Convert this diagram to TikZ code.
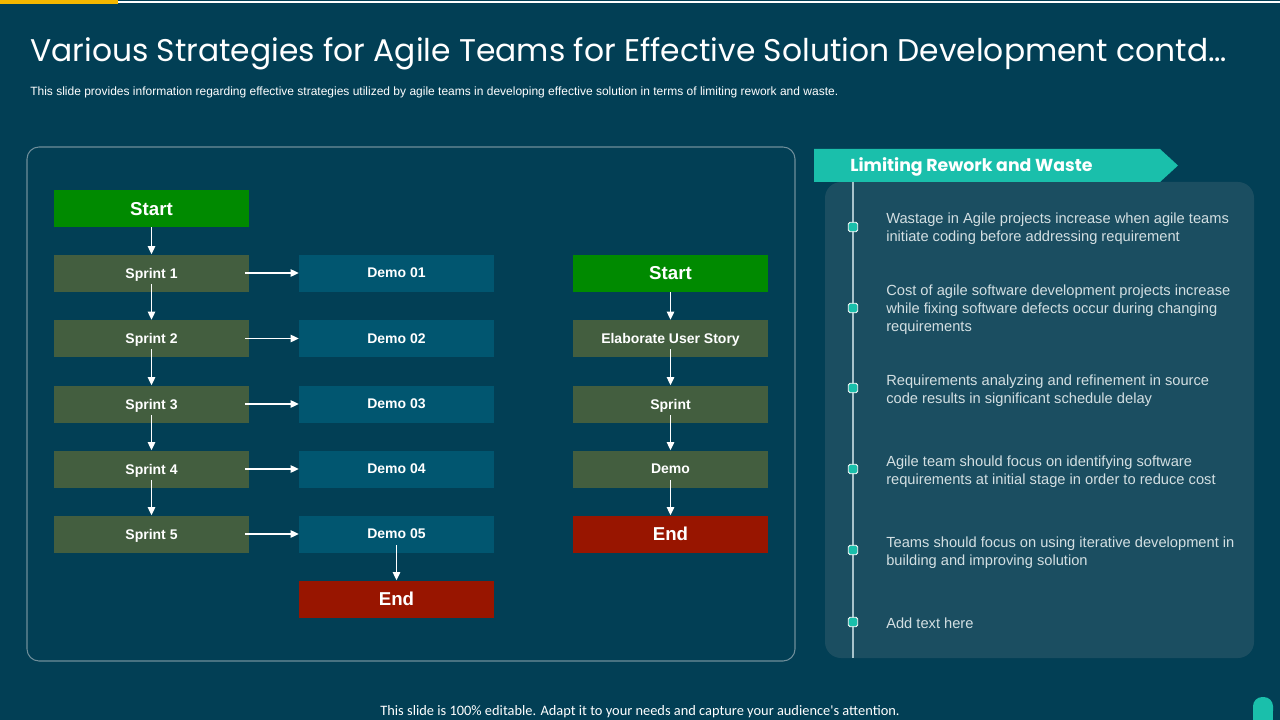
\documentclass[tikz,border=0pt]{standalone}
\usepackage{fontspec}
\setmainfont{Liberation Sans}
\newfontfamily\titlefont{Poppins}
\newfontfamily\footfont{Carlito}
\usetikzlibrary{arrows.meta,shapes.geometric}
\definecolor{bg}{HTML}{023F55}
\definecolor{startgreen}{HTML}{008A00}
\definecolor{sprintc}{HTML}{435E3F}
\definecolor{democ}{HTML}{015670}
\definecolor{endc}{HTML}{981500}
\definecolor{tealc}{HTML}{1ABFAB}
\definecolor{cardc}{HTML}{1B4E61}
\definecolor{linec}{HTML}{A8C3CB}
\definecolor{txtc}{HTML}{D3DFE2}
\definecolor{panelb}{HTML}{6F8E9A}
\definecolor{yel}{HTML}{F5B800}
\tikzset{
  box/.style={minimum width=146.25pt,minimum height=27.75pt,inner sep=0pt,text depth=0pt,text=white,font=\bfseries\fontsize{10.5}{12}\selectfont},
  bigbox/.style={box,font=\bfseries\fontsize{14}{16}\selectfont},
  arr/.style={draw=white,line width=1pt,-{Triangle[width=5.5pt,length=6pt]}},
  bullet/.style={draw=white,fill=tealc,line width=0.6pt,minimum size=7pt,inner sep=0pt,rounded corners=1.2pt},
  itemtxt/.style={anchor=west,align=left,text=txtc,inner sep=0pt,font=\fontsize{11}{13.5}\selectfont}
}
\begin{document}
\begin{tikzpicture}[x=0.75pt,y=-0.75pt]
\fill[bg] (0,0) rectangle (1280,720);
\useasboundingbox (0,0) rectangle (1280,720);
\fill[yel] (0,0) rectangle (118,4);
\draw[white,line width=0.8pt] (118,2) -- (1280,2);
\node[anchor=base west,inner sep=0pt,text=white,font=\titlefont\fontsize{23.5}{28}\selectfont] (title) at (30,62) {Various Strategies for Agile Teams for Effective Solution Development contd\dots};
\node[anchor=base west,inner sep=0pt,text=white,font=\fontsize{9}{10}\selectfont] (sub) at (30,96) {This slide provides information regarding effective strategies utilized by agile teams in developing effective solution in terms of limiting rework and waste.};
% left panel
\draw[panelb,line width=0.8pt,rounded corners=9pt] (27,147) rectangle (795,661);
% left flow
\node[bigbox,fill=startgreen] (s0) at (151.5,208.5) {Start};
\foreach \i/\y in {1/273,2/338.5,3/404,4/469,5/534}{
  \node[box,fill=sprintc] (sp\i) at (151.5,\y) {Sprint \i};
  \node[box,fill=democ] (dm\i) at (396.5,\y) {Demo 0\i};
  \draw[arr] ([xshift=-3pt]sp\i.east) -- (dm\i.west);
}
\node[bigbox,fill=endc] (e0) at (396.5,599) {End};
\draw[arr] (s0.south) -- (sp1.north);
\foreach \a/\b in {1/2,2/3,3/4,4/5}{
  \draw[arr] ([yshift=6pt]sp\a.south) -- (sp\b.north);
}
\draw[arr] ([yshift=6pt]dm5.south) -- (e0.north);
% right flow
\node[bigbox,fill=startgreen] (s1) at (670.5,273) {Start};
\node[box,fill=sprintc] (el) at (670.5,338.5) {Elaborate User Story};
\node[box,fill=sprintc] (sp) at (670.5,404) {Sprint};
\node[box,fill=sprintc] (dm) at (670.5,469) {Demo};
\node[bigbox,fill=endc] (e1) at (670.5,534) {End};
\draw[arr] (s1.south) -- (el.north);
\draw[arr] ([yshift=6pt]el.south) -- (sp.north);
\draw[arr] ([yshift=6pt]sp.south) -- (dm.north);
\draw[arr] ([yshift=6pt]dm.south) -- (e1.north);
% right panel
\fill[cardc,rounded corners=12pt] (825,182) rectangle (1254,658);
\fill[tealc] (814,149) -- (1160,149) -- (1178,165.5) -- (1160,182) -- (814,182) -- cycle;
\node[anchor=west,inner sep=0pt,text=white,font=\titlefont\bfseries\fontsize{13}{15}\selectfont] (hd) at (850,167) {Limiting Rework and Waste};
\coordinate (ltop) at (853,182);
\coordinate (lbot) at (853,658);
\draw[linec,line width=1.2pt] (ltop) -- (lbot);
\node[bullet] (b1) at (853,227) {};
\node[bullet] (b2) at (853,308) {};
\node[bullet] (b3) at (853,388) {};
\node[bullet] (b4) at (853,469) {};
\node[bullet] (b5) at (853,550) {};
\node[bullet] (b6) at (853,622) {};
\node[itemtxt] (t1) at (886,229) {Wastage in Agile projects increase when agile teams\\initiate coding before addressing requirement};
\node[itemtxt] (t2) at (886,310) {Cost of agile software development projects increase\\while fixing software defects occur during changing\\requirements};
\node[itemtxt] (t3) at (886,391) {Requirements analyzing and refinement in source\\code results in significant schedule delay};
\node[itemtxt] (t4) at (886,472) {Agile team should focus on identifying software\\requirements at initial stage in order to reduce cost};
\node[itemtxt] (t5) at (886,553) {Teams should focus on using iterative development in\\building and improving solution};
\node[itemtxt] (t6) at (886,623) {Add text here};
% footer
\node[inner sep=0pt,text=white,font=\footfont\fontsize{10.8}{12}\selectfont] (foot) at (640,712) {This slide is 100\% editable. Adapt it to your needs and capture your audience's attention.};
\fill[tealc,rounded corners=7pt] (1253,720) -- (1253,697) -- (1273,697) -- (1273,720) -- cycle;
\fill[tealc] (1253,710) rectangle (1273,720);
\end{tikzpicture}
\end{document}
